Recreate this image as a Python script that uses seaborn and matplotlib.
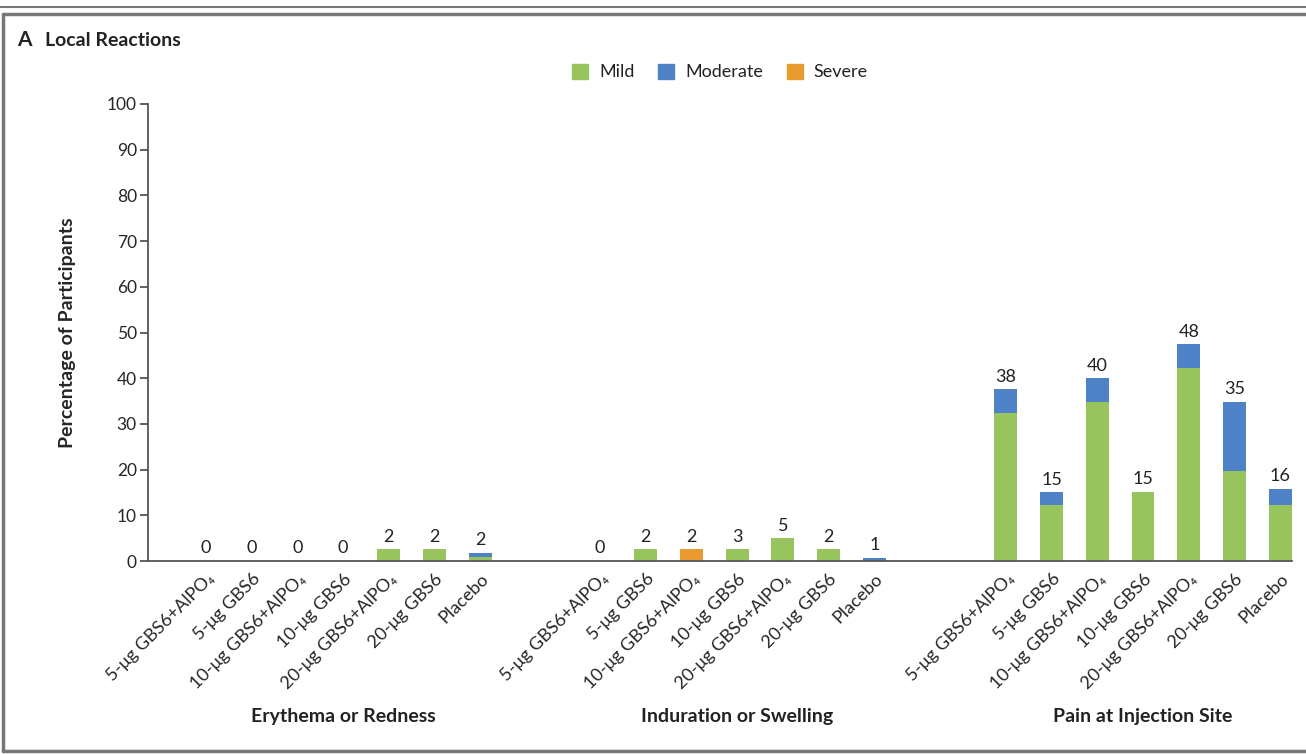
import numpy as np
import pandas as pd
import seaborn as sns
import matplotlib.pyplot as plt
from matplotlib.lines import Line2D
from matplotlib.patches import Patch

# data
groups = ['Erythema or Redness', 'Induration or Swelling', 'Pain at Injection Site']
doses = ['5-μg GBS6+AlPO₄', '5-μg GBS6', '10-μg GBS6+AlPO₄', '10-μg GBS6',
         '20-μg GBS6+AlPO₄', '20-μg GBS6', 'Placebo']

mild = [0, 0, 0, 0, 2.6, 2.6, 0.9,
        0, 2.6, 0, 2.6, 5.0, 2.6, 0,
        32.3, 12.3, 34.8, 15.2, 42.2, 19.7, 12.3]
moderate = [0, 0, 0, 0, 0, 0, 0.9,
            0, 0, 0, 0, 0, 0, 0.7,
            5.3, 2.7, 5.2, 0, 5.2, 15.1, 3.5]
severe = [0, 0, 0, 0, 0, 0, 0,
          0, 0, 2.6, 0, 0, 0, 0,
          0, 0, 0, 0, 0, 0, 0]
totals = [0, 0, 0, 0, 2, 2, 2,
          0, 2, 2, 3, 5, 2, 1,
          38, 15, 40, 15, 48, 35, 16]

group_offsets = [0, 8.62, 17.5]
GREEN = '#97c45d'
BLUE = '#4f81c7'
ORANGE = '#e89a2f'

pos = [g + j for g in group_offsets for j in range(len(doses))]
df = pd.DataFrame({'pos': pos, 'mild': mild, 'moderate': moderate, 'severe': severe})
df['mild_mod'] = df['mild'] + df['moderate']
df['all'] = df['mild_mod'] + df['severe']

sns.set_style('white')
plt.rcParams['font.family'] = ['Lato', 'DejaVu Sans']
plt.rcParams['text.color'] = '#222222'

fig = plt.figure(figsize=(13.06, 7.54), dpi=100)
ax = fig.add_axes([148 / 1306, (754 - 561) / 754, (1292 - 148) / 1306, 457 / 754])

# stacked bars: draw cumulative heights back to front
for col, c in [('all', ORANGE), ('mild_mod', BLUE), ('mild', GREEN)]:
    sns.barplot(data=df, x='pos', y=col, native_scale=True, color=c, width=0.5,
                saturation=1, linewidth=0, edgecolor='none', ax=ax)

for x, h, t in zip(df['pos'], df['all'], totals):
    ax.text(x, h + 1.0, str(t), ha='center', va='bottom', fontsize=13)

ax.set_xlim(-1.27, 23.76)
ax.set_ylim(0, 100)
ax.set_yticks(range(0, 101, 10))
ax.tick_params(axis='y', left=True, labelsize=12.5, length=6, width=1.3,
               color='#555555', pad=2)
ax.set_xticks(pos)
ax.set_xticklabels(doses * len(groups), rotation=45, ha='right',
                   rotation_mode='anchor', fontsize=13)
ax.tick_params(axis='x', length=0, pad=7)
ax.set_xlabel('')
ax.set_ylabel('Percentage of Participants', fontsize=14, fontweight='bold', labelpad=22)
for s in ['top', 'right']:
    ax.spines[s].set_visible(False)
for s in ['left', 'bottom']:
    ax.spines[s].set_color('#555555')
    ax.spines[s].set_linewidth(1.3)

for g, name in zip(group_offsets, groups):
    ax.text(g + 3, -0.341, name, transform=ax.get_xaxis_transform(),
            ha='center', va='center', fontsize=14, fontweight='bold')

handles = [Patch(color=GREEN, label='Mild'), Patch(color=BLUE, label='Moderate'),
           Patch(color=ORANGE, label='Severe')]
fig.legend(handles=handles, loc='center', bbox_to_anchor=(720 / 1306, 1 - 72 / 754),
           ncol=3, frameon=False, fontsize=13, handlelength=0.9, handleheight=0.9,
           columnspacing=1.3, handletextpad=0.6)

fig.text(17 / 1306, 1 - 40 / 754, 'A', fontsize=15, fontweight='bold', va='center')
fig.text(45 / 1306, 1 - 40 / 754, 'Local Reactions', fontsize=14, fontweight='bold',
         va='center')

# outer frame
fig.add_artist(Line2D([0, 1], [1 - 7 / 754] * 2, color='#777777', lw=1.5))
fig.add_artist(Line2D([3 / 1306, 1], [1 - 14 / 754] * 2, color='#777777', lw=2.5))
fig.add_artist(Line2D([3 / 1306] * 2, [1 - 14 / 754, 3 / 754], color='#777777', lw=2.5))
fig.add_artist(Line2D([3 / 1306, 1], [3 / 754] * 2, color='#777777', lw=2.5))

fig.savefig('out.png', dpi=100)
